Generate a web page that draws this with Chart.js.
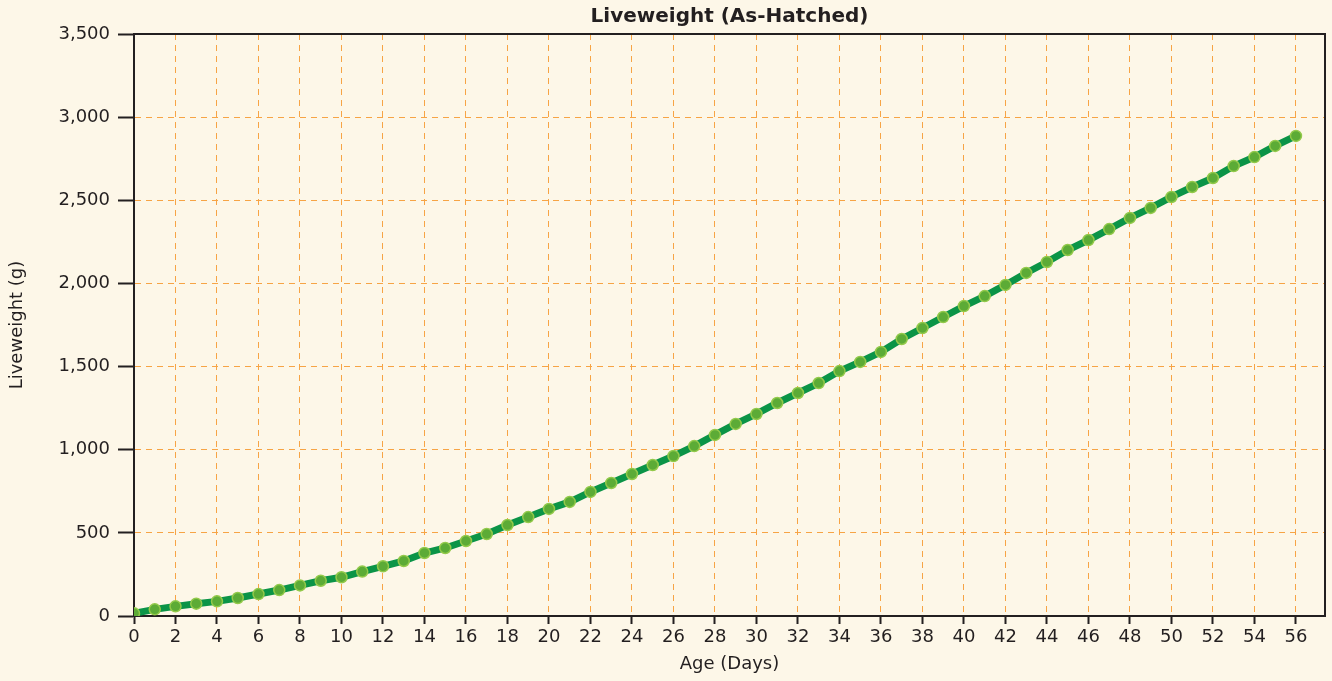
<!DOCTYPE html>
<html>
<head>
<meta charset="utf-8">
<script src="https://cdn.jsdelivr.net/npm/chart.js@4"></script>
<style>
  html, body { margin: 0; padding: 0; background: #fdf7e8; }
  #wrap { width: 1332px; height: 681px; }
</style>
</head>
<body>
<div id="wrap"><canvas id="chart" width="1332" height="681"></canvas></div>
<script>
// age in days
const days = [0, 1, 2, 3, 4, 5, 6, 7, 8, 9, 10, 11, 12, 13, 14, 15, 16, 17, 18, 19,
  20, 21, 22, 23, 24, 25, 26, 27, 28, 29, 30, 31, 32, 33, 34, 35, 36, 37, 38, 39,
  40, 41, 42, 43, 44, 45, 46, 47, 48, 49, 50, 51, 52, 53, 54, 55, 56];
// liveweight (g)
const liveweight = [16, 40, 58, 74, 88, 108, 132, 156, 184, 212, 233, 267, 299, 331, 379, 409,
  451, 493, 547, 595, 644, 686, 746, 800, 854, 908, 962, 1022, 1089, 1155, 1215, 1281,
  1341, 1401, 1473, 1528, 1588, 1666, 1732, 1798, 1864, 1924, 1991, 2063, 2129, 2201,
  2261, 2327, 2394, 2454, 2520, 2580, 2634, 2706, 2760, 2827, 2887];
const yTicks = [0, 500, 1000, 1500, 2000, 2500, 3000, 3500];

const points = days.map((d, i) => ({ x: d, y: liveweight[i] }));

const ink = '#231f20';
const gridOrange = '#f7a445';
const fontFamily = '"DejaVu Sans", "Open Sans", sans-serif';

// closes the plot box (top + right edges)
const boxBorder = {
  id: 'boxBorder',
  beforeDatasetsDraw(chart) {
    const { ctx, chartArea: a } = chart;
    ctx.save();
    ctx.strokeStyle = ink;
    ctx.lineWidth = 2;
    ctx.beginPath();
    ctx.moveTo(a.left, a.top);
    ctx.lineTo(a.right, a.top);
    ctx.lineTo(a.right, a.bottom);
    ctx.stroke();
    ctx.restore();
  }
};

Chart.defaults.font.family = fontFamily;
Chart.defaults.color = ink;

new Chart(document.getElementById('chart').getContext('2d'), {
  type: 'line',
  data: {
    datasets: [{
      label: 'Liveweight',
      data: points,
      borderColor: '#0b9447',
      borderWidth: 7,
      pointRadius: 5.5,
      pointBackgroundColor: '#5cab36',
      pointBorderColor: '#93c94a',
      pointBorderWidth: 1.5,
      tension: 0
    }]
  },
  plugins: [boxBorder],
  options: {
    responsive: false,
    animation: false,
    layout: { padding: { left: 0, right: 4, top: 0, bottom: 0 } },
    plugins: {
      legend: { display: false },
      tooltip: { enabled: false },
      title: {
        display: true,
        text: 'Liveweight (As-Hatched)',
        fullSize: false,
        color: ink,
        font: { size: 20, weight: 'bold' },
        padding: { top: 5, bottom: 5 }
      }
    },
    scales: {
      x: {
        type: 'linear',
        min: 0,
        max: 57.4,
        afterBuildTicks: axis => {
          axis.ticks = days.filter(d => d % 2 === 0).map(d => ({ value: d }));
        },
        afterFit: scale => { scale.height = 65; },
        ticks: {
          autoSkip: false,
          maxRotation: 0,
          padding: 3,
          font: { size: 18 },
          color: ink
        },
        grid: {
          color: gridOrange,
          lineWidth: 1,
          tickColor: ink,
          tickLength: 8,
          tickWidth: 2,
          drawTicks: true
        },
        border: { color: ink, width: 2, dash: [6, 5] },
        title: {
          display: true,
          text: 'Age (Days)',
          font: { size: 18 },
          color: ink,
          padding: { top: 0, bottom: 6 }
        }
      },
      y: {
        min: 0,
        max: 3500,
        afterBuildTicks: axis => {
          axis.ticks = yTicks.map(v => ({ value: v }));
        },
        afterFit: scale => { scale.width = 134; },
        ticks: {
          padding: 8,
          font: { size: 18 },
          color: ink,
          callback: v => v.toLocaleString('en-US')
        },
        grid: {
          color: gridOrange,
          lineWidth: 1,
          tickColor: ink,
          tickLength: 16,
          tickWidth: 2
        },
        border: { color: ink, width: 2, dash: [6, 5] },
        title: {
          display: true,
          text: 'Liveweight (g)',
          font: { size: 18 },
          color: ink,
          padding: { top: 7, bottom: 0 }
        }
      }
    }
  }
});
</script>
</body>
</html>
